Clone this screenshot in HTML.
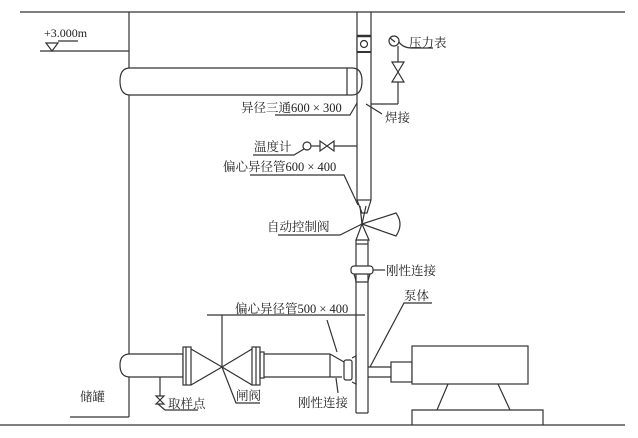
<!DOCTYPE html>
<html><head><meta charset="utf-8"><style>
html,body{margin:0;padding:0;background:#fff}
svg{display:block}
text{font-family:"Liberation Serif","Noto Serif CJK SC",serif;font-size:12.5px;fill:#222}
</style></head><body>
<svg width="638" height="438" viewBox="0 0 638 438" xmlns="http://www.w3.org/2000/svg">
<g stroke="#333" stroke-width="1.2" fill="none">
<!-- top and bottom lines -->
<line x1="20" y1="12" x2="625" y2="12"/>
<line x1="0" y1="425" x2="625" y2="425"/>
<!-- tank wall -->
<line x1="129" y1="12" x2="129" y2="417"/>
<line x1="70" y1="417" x2="129" y2="417"/>
<!-- level mark -->
<line x1="40" y1="51" x2="129" y2="51"/>
<line x1="58" y1="41" x2="78" y2="41"/>
<path d="M46 43 L58 43 L52 51 Z"/>
<!-- upper horizontal pipe -->
<path d="M130 68 L352 68 Q362 68 362 81 Q362 95 352 95 L130 95 Q120 95 120 81 Q120 68 130 68 Z" fill="#fff"/>
<line x1="347" y1="68" x2="347" y2="95"/>
<!-- vertical pipe upper -->
<line x1="357" y1="12" x2="357" y2="200"/>
<line x1="371" y1="12" x2="371" y2="200"/>
<rect x="357" y="36" width="14" height="16" fill="#fff"/>
<line x1="357" y1="36" x2="371" y2="36" stroke-width="2.5"/>
<line x1="357" y1="52" x2="371" y2="52" stroke-width="2"/>
<circle cx="364" cy="44" r="3.5"/>
<!-- cone and valve -->
<path d="M357 200 L362 213 L367 213 L371 200"/>
<line x1="357" y1="200" x2="371" y2="200"/>
<path d="M360 206 L362 224 L366 206"/>
<path d="M362 224 L356 240 L369 240 Z"/>
<path d="M362 224 L396 213 Q404 224 396 236 Z"/>
<!-- lower vertical pipe -->
<line x1="356" y1="240" x2="356" y2="413"/>
<line x1="368" y1="240" x2="368" y2="413"/>
<line x1="356" y1="413" x2="368" y2="413"/>
<line x1="356" y1="244" x2="368" y2="244"/>
<rect x="351" y="266" width="22" height="8" rx="3" fill="#fff"/>
<path d="M354 274 Q356 280 356 282 L368 282 Q368 280 370 274"/>
<!-- pressure gauge -->
<circle cx="394" cy="41" r="5"/>
<line x1="390" y1="38" x2="395" y2="42"/>
<path d="M399 42 Q403 48 412 48 L433 48"/>
<line x1="398" y1="46" x2="398" y2="62"/>
<path d="M392 62 L404 62 L392 82 L404 82 Z"/>
<line x1="398" y1="82" x2="398" y2="104"/>
<line x1="371" y1="104" x2="398" y2="104"/>
<!-- tee leader & weld -->
<path d="M357 103 L350 115 L275 115"/>
<line x1="366" y1="104" x2="382" y2="114"/>
<!-- thermometer -->
<circle cx="307" cy="146" r="4"/>
<path d="M304 149 L294 155 L253 155"/>
<path d="M320 141 L320 151 L334 141 L334 151 Z"/>
<line x1="311" y1="146" x2="320" y2="146"/>
<line x1="334" y1="146" x2="357" y2="146"/>
<!-- eccentric reducer 600x400 leader -->
<path d="M250 175 L344 175 L358 205"/>
<!-- actuator leader -->
<path d="M278 235 L340 235 L362 224"/>
<!-- rigid leader upper -->
<line x1="373" y1="270" x2="385" y2="270"/>
<!-- pump body leader -->
<path d="M432 303 L404 303 L370 367"/>
<!-- bottom pipe -->
<path d="M130 354 L183 354 L183 377 L130 377 Q120 377 120 365 Q120 354 130 354 Z" fill="#fff"/>
<rect x="183" y="347" width="8" height="38" fill="#fff"/>
<line x1="186" y1="347" x2="186" y2="385"/>
<path d="M191 349 L222 367 L191 385"/>
<path d="M252 349 L222 367 L252 385"/>
<rect x="252" y="347" width="8" height="38" fill="#fff"/>
<line x1="256" y1="347" x2="256" y2="385"/>
<rect x="260" y="352" width="4" height="26"/>
<line x1="264" y1="354" x2="330" y2="354"/>
<line x1="264" y1="377" x2="342" y2="377"/>
<path d="M330 354 L344 362"/>
<line x1="330" y1="354" x2="330" y2="377"/>
<rect x="344" y="360" width="8" height="20" rx="2"/>
<path d="M352 358 L356 356 L356 384 L352 382"/>
<!-- sample point -->
<line x1="160" y1="377" x2="160" y2="396"/>
<path d="M156 396 L164 396 L156 404 L164 404 Z"/>
<path d="M158 404 L165 410 L198 410"/>
<!-- gate valve leaders -->
<path d="M207 315 L222 315 L222 367"/>
<line x1="222" y1="315" x2="365" y2="315"/>
<path d="M222 367 L236 403 L260 403"/>
<!-- rigid leader lower -->
<path d="M327 320 L337 352"/>
<line x1="336" y1="378" x2="338" y2="393"/>
<!-- pump -->
<line x1="368" y1="367" x2="391" y2="367"/>
<line x1="368" y1="377" x2="391" y2="377"/>
<rect x="391" y="362" width="21" height="20" fill="#fff"/>
<rect x="412" y="346" width="116" height="38" fill="#fff"/>
<path d="M448 384 L437 410 M498 384 L510 410"/>
<path d="M412 425 L412 410 L543 410 L543 425"/>
</g>
<text x="44" y="37" style="font-size:12px">+3.000m</text>
<text x="409" y="47">压力表</text>
<text x="241" y="112">异径三通600 × 300</text>
<text x="385" y="122">焊接</text>
<text x="254" y="151">温度计</text>
<text x="223" y="171">偏心异径管600 × 400</text>
<text x="267" y="231">自动控制阀</text>
<text x="386" y="275">刚性连接</text>
<text x="404" y="300">泵体</text>
<text x="235" y="313">偏心异径管500 × 400</text>
<text x="168" y="408">取样点</text>
<text x="236" y="400">闸阀</text>
<text x="298" y="407">刚性连接</text>
<text x="80" y="401">储罐</text>
</svg>
</body></html>
